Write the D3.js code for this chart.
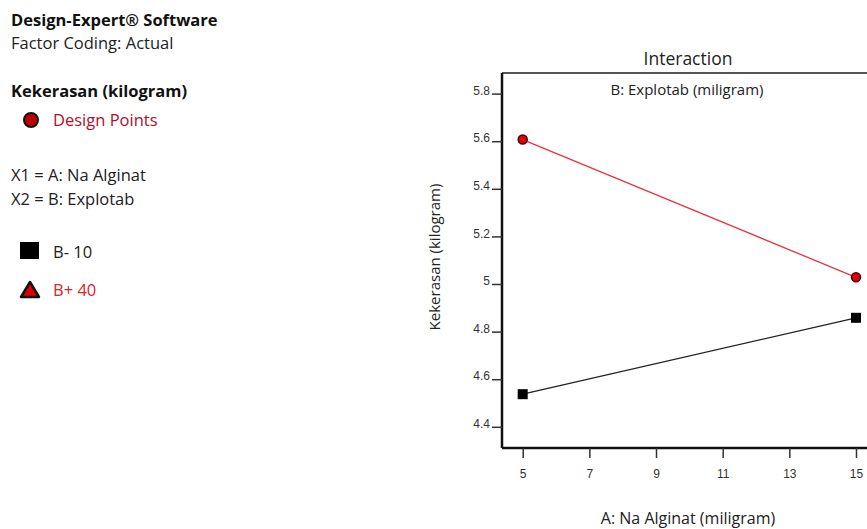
<!DOCTYPE html>
<html>
<head>
<meta charset="utf-8">
<script src="https://cdn.jsdelivr.net/npm/d3@7"></script>
<style>
  body { margin: 0; background: #fff; }
  svg { display: block; font-family: "Open Sans", "Noto Sans", sans-serif; }
</style>
</head>
<body>
<div id="chart"></div>
<script>
// factor A levels (x) and the response for each B level
const aLevels = [5, 15];
const bLow = [4.537, 4.858];   // B- 10
const bHigh = [5.607, 5.028];  // B+ 40
const xTicks = [5, 7, 9, 11, 13, 15];
const yTicks = [4.4, 4.6, 4.8, 5, 5.2, 5.4, 5.6, 5.8];

const width = 867, height = 529;
const box = {left: 502, top: 73, right: 877, bottom: 448};

const svg = d3.select("#chart").append("svg")
  .attr("width", width)
  .attr("height", height);

// left side info text
const info = svg.append("g").attr("font-size", 16.5);
info.append("text").attr("x", 11).attr("y", 26).attr("font-weight", "bold")
  .attr("fill", "#111").text("Design-Expert® Software");
info.append("text").attr("x", 11).attr("y", 49)
  .attr("fill", "#222").text("Factor Coding: Actual");
info.append("text").attr("x", 11).attr("y", 97).attr("font-weight", "bold")
  .attr("fill", "#111").text("Kekerasan (kilogram)");
info.append("circle").attr("cx", 31).attr("cy", 120).attr("r", 7)
  .attr("fill", "#c00000").attr("stroke", "#111").attr("stroke-width", 2);
info.append("text").attr("x", 53).attr("y", 126)
  .attr("fill", "#b0102a").text("Design Points");
info.append("text").attr("x", 11).attr("y", 181)
  .attr("fill", "#222").text("X1 = A: Na Alginat");
info.append("text").attr("x", 11).attr("y", 205)
  .attr("fill", "#222").text("X2 = B: Explotab");
info.append("rect").attr("x", 20).attr("y", 242).attr("width", 19).attr("height", 17)
  .attr("fill", "#000");
info.append("text").attr("x", 53).attr("y", 258)
  .attr("fill", "#222").text("B- 10");
info.append("path").attr("d", "M30,282 L39,297 L21,297 Z")
  .attr("fill", "#e00000").attr("stroke", "#111").attr("stroke-width", 2.5)
  .attr("stroke-linejoin", "round");
info.append("text").attr("x", 53).attr("y", 296)
  .attr("fill", "#e0202a").text("B+ 40");

// scales
const x = d3.scaleLinear()
  .domain([5, 15])
  .range([522.7, 856]);

const y = d3.scaleLinear()
  .domain([4.4, 5.8])
  .range([426.8, 93.6]);

// plot frame
svg.append("line").attr("x1", box.left).attr("x2", box.right)
  .attr("y1", box.top).attr("y2", box.top)
  .attr("stroke", "#555").attr("stroke-width", 2);
svg.append("line").attr("x1", box.right).attr("x2", box.right)
  .attr("y1", box.top).attr("y2", box.bottom)
  .attr("stroke", "#555").attr("stroke-width", 2);

// axes
const yAxis = svg.append("g")
  .attr("transform", `translate(${box.left},0)`)
  .call(d3.axisLeft(y).tickValues(yTicks).tickFormat(d3.format("")).tickSize(10).tickPadding(2).tickSizeOuter(0));
yAxis.select(".domain").attr("d", `M0,${box.top}V${box.bottom}`)
  .attr("stroke", "#111").attr("stroke-width", 2.5);
yAxis.selectAll(".tick line").attr("stroke", "#333").attr("stroke-width", 1.5);
yAxis.selectAll(".tick text").attr("font-size", 12).attr("fill", "#333")
  .attr("dy", "0.05em");

const xAxis = svg.append("g")
  .attr("transform", `translate(0,${box.bottom})`)
  .call(d3.axisBottom(x).tickValues(xTicks).tickFormat(d3.format("d")).tickSize(10).tickPadding(11).tickSizeOuter(0));
xAxis.select(".domain").attr("d", `M${box.left},0H${box.right}`)
  .attr("stroke", "#111").attr("stroke-width", 2.5);
xAxis.selectAll(".tick line").attr("stroke", "#333").attr("stroke-width", 1.5);
xAxis.selectAll(".tick text").attr("font-size", 12).attr("fill", "#333");

// titles
svg.append("text").attr("x", 688).attr("y", 65).attr("text-anchor", "middle")
  .attr("font-size", 17.5).attr("fill", "#222").text("Interaction");
svg.append("text").attr("x", 687).attr("y", 95).attr("text-anchor", "middle")
  .attr("font-size", 15).attr("fill", "#222").text("B: Explotab (miligram)");
svg.append("text").attr("transform", "translate(440,257) rotate(-90)")
  .attr("text-anchor", "middle").attr("font-size", 15).attr("fill", "#222")
  .text("Kekerasan (kilogram)");
svg.append("text").attr("x", 688).attr("y", 524).attr("text-anchor", "middle")
  .attr("font-size", 16).attr("fill", "#222").text("A: Na Alginat (miligram)");

// lines
const line = d3.line().x((d, i) => x(aLevels[i])).y(d => y(d));

svg.append("path").datum(bLow).attr("d", line)
  .attr("fill", "none").attr("stroke", "#222").attr("stroke-width", 1.3);
svg.append("path").datum(bHigh).attr("d", line)
  .attr("fill", "none").attr("stroke", "#e8343c").attr("stroke-width", 1.3);

// markers
svg.selectAll(".sq").data(bLow).join("rect")
  .attr("class", "sq")
  .attr("x", (d, i) => x(aLevels[i]) - 5)
  .attr("y", d => y(d) - 5)
  .attr("width", 10).attr("height", 10)
  .attr("fill", "#000");

svg.selectAll(".pt").data(bHigh).join("circle")
  .attr("class", "pt")
  .attr("cx", (d, i) => x(aLevels[i]))
  .attr("cy", d => y(d))
  .attr("r", 4.5)
  .attr("fill", "#e00010").attr("stroke", "#4a0000").attr("stroke-width", 1.5);
</script>
</body>
</html>
